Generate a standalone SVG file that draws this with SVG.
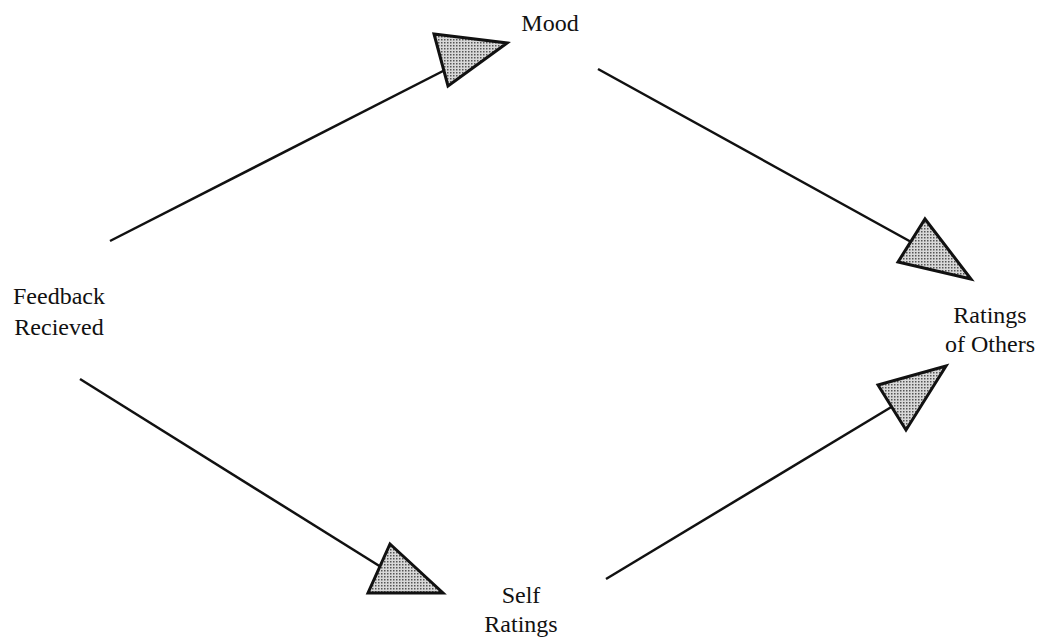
<svg xmlns="http://www.w3.org/2000/svg" width="1046" height="644" viewBox="0 0 1046 644">
<defs>
<pattern id="dots" width="3" height="3" patternUnits="userSpaceOnUse">
<rect width="3" height="3" fill="#d8d8d8"/>
<rect x="0" y="0" width="1.5" height="1.5" fill="#555"/>
</pattern>
</defs>
<style>
.lbl{font-family:"Liberation Serif","Times New Roman",serif;font-size:24px;fill:#111;text-anchor:middle}
.ln{stroke:#111;stroke-width:2.5;fill:none}
.head{fill:url(#dots);stroke:#111;stroke-width:3;stroke-linejoin:miter}
</style>
<rect width="1046" height="644" fill="#fff"/>
<g id="connectors">
<line class="ln" x1="110" y1="241" x2="445" y2="70"/>
<polygon class="head" points="434,34 507,43 448,86"/>
<line class="ln" x1="598" y1="69" x2="913" y2="243"/>
<polygon class="head" points="925,219 971,279 898,262"/>
<line class="ln" x1="606" y1="579" x2="893" y2="406"/>
<polygon class="head" points="878,385 946,366 906,430"/>
<line class="ln" x1="80" y1="379" x2="381" y2="567"/>
<polygon class="head" points="390,544 443,593 368,593"/>
</g>
<g id="mood"><text class="lbl" x="550" y="31">Mood</text></g>
<g id="feedback"><text class="lbl" x="59" y="304">Feedback</text><text class="lbl" x="59" y="335">Recieved</text></g>
<g id="ratings-others"><text class="lbl" x="990" y="323">Ratings</text><text class="lbl" x="990" y="352">of Others</text></g>
<g id="self-ratings"><text class="lbl" x="521" y="603">Self</text><text class="lbl" x="521" y="632">Ratings</text></g>
</svg>
